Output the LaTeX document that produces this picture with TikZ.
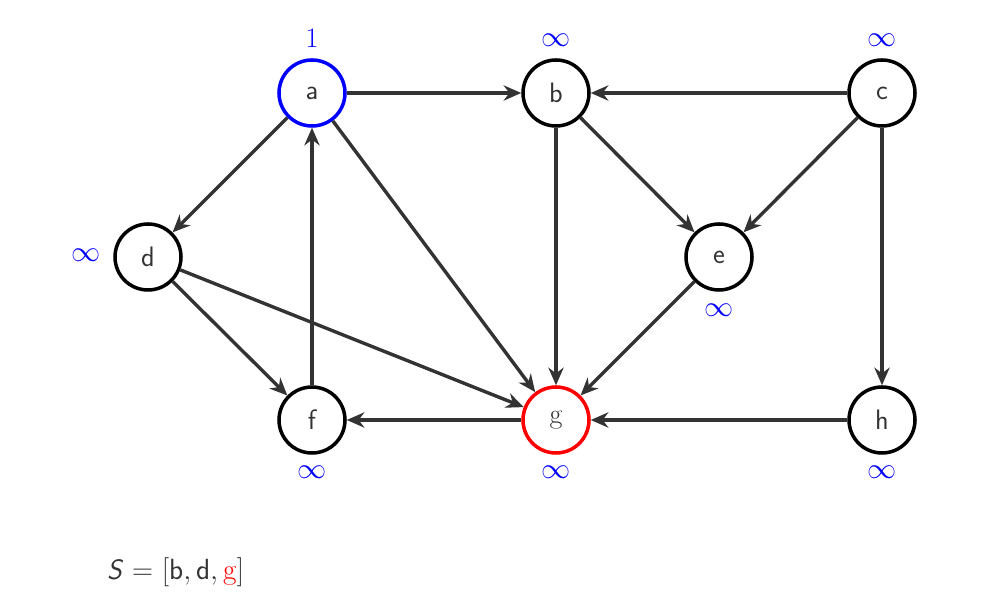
\documentclass[tikz,border=0pt]{standalone}
\usepackage{xcolor}
\usetikzlibrary{arrows.meta}
\tikzset{
  vertex/.style={circle,draw,line width=3pt,minimum size=1.98cm,inner sep=0pt,
    text=black!80,font=\fontsize{24}{28}\selectfont\sffamily},
  edge/.style={-{Stealth[length=15pt,width=13pt]},line width=2.9pt,draw=black!80},
  dist/.style={text=blue,font=\fontsize{24}{28}\selectfont}
}
\begin{document}
\begin{tikzpicture}[x=0.03cm,y=0.03cm]
\useasboundingbox (0,0) rectangle (1001,612);
\node [vertex,draw=blue] (a) at (312,519) {a};
\node [vertex] (b) at (556,519) {b};
\node [vertex] (c) at (882,519) {c};
\node [vertex] (d) at (148,355) {d};
\node [vertex] (e) at (719,355) {e};
\node [vertex] (f) at (312,192) {f};
\node [vertex,draw=red] (g) at (556,192) {\rmfamily g};
\node [vertex] (h) at (882,192) {h};
% distances
\node [dist] (la) at (312,574) {1};
\node [dist] (lb) at (556,572) {$\infty$};
\node [dist] (lc) at (882,572) {$\infty$};
\node [dist] (ld) at (86,357) {$\infty$};
\node [dist] (le) at (719,302) {$\infty$};
\node [dist] (lf) at (312,140) {$\infty$};
\node [dist] (lg) at (556,140) {$\infty$};
\node [dist] (lh) at (882,140) {$\infty$};
\draw [edge] (a) -- (b);
\draw [edge] (c) -- (b);
\draw [edge] (a) -- (d);
\draw [edge] (a) -- (g);
\draw [edge] (b) -- (g);
\draw [edge] (b) -- (e);
\draw [edge] (c) -- (e);
\draw [edge] (c) -- (h);
\draw [edge] (d) -- (g);
\draw [edge] (d) -- (f);
\draw [edge] (f) -- (a);
\draw [edge] (e) -- (g);
\draw [edge] (g) -- (f);
\draw [edge] (h) -- (g);
\node [anchor=west,text=black!80,font=\fontsize{24}{28}\selectfont\sffamily] (s) at (103,40)
  {\textit{S} $=$ $[\mathsf{b},\mathsf{d},\textcolor{red}{\mathrm{g}}]$};
\end{tikzpicture}
\end{document}
